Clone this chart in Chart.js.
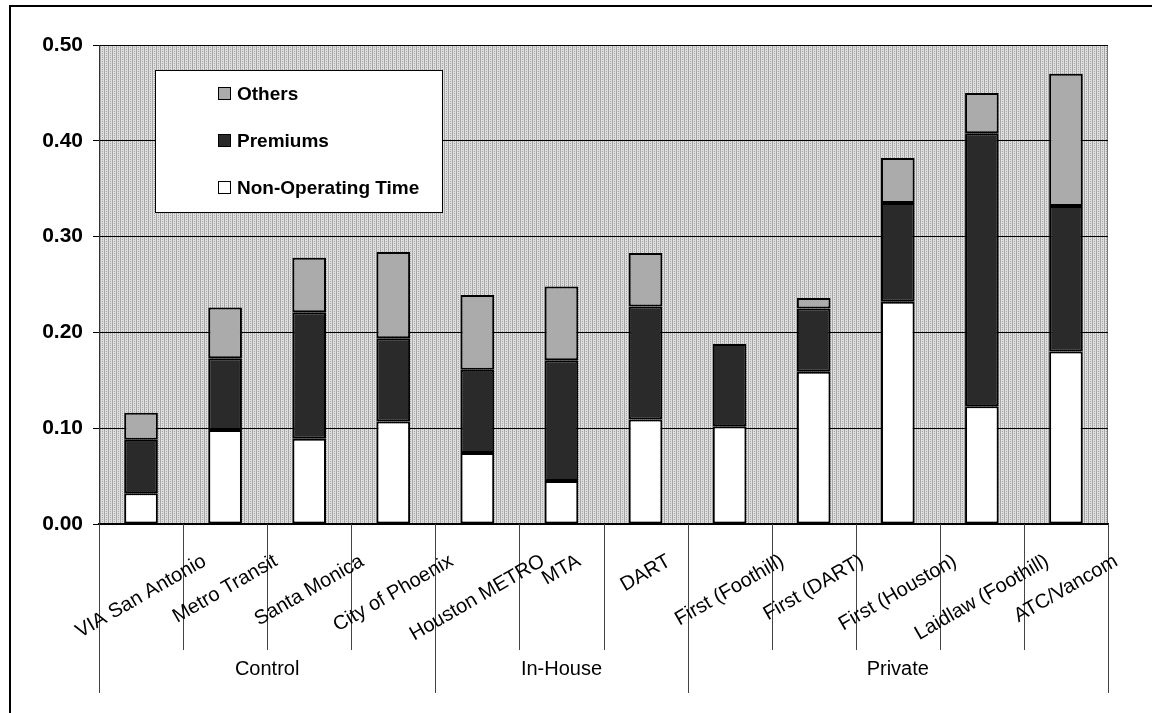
<!DOCTYPE html>
<html>
<head>
<meta charset="utf-8">
<script src="https://cdn.jsdelivr.net/npm/chart.js@4.4.0/dist/chart.umd.min.js"></script>
<style>
    html, body { margin: 0; padding: 0; background: #fff; }
    #wrap { width: 1152px; height: 713px; position: relative; }
</style>
</head>
<body>
<div id="wrap"><canvas id="grafico" width="1152" height="713"></canvas></div>
<script>

const categorias = ['VIA San Antonio', 'Metro Transit', 'Santa Monica', 'City of Phoenix',
    'Houston METRO', 'MTA', 'DART',
    'First (Foothill)', 'First (DART)', 'First (Houston)', 'Laidlaw (Foothill)', 'ATC/Vancom']

const grupos = ['Control', 'In-House', 'Private']
const tamGrupos = [4, 3, 5]

const noOperativo = [0.032, 0.098, 0.089, 0.107, 0.074, 0.045, 0.109, 0.102, 0.159, 0.232, 0.123, 0.180]
const primas      = [0.056, 0.075, 0.132, 0.087, 0.087, 0.126, 0.118, 0.086, 0.066, 0.103, 0.285, 0.152]
const otros       = [0.028, 0.053, 0.057, 0.090, 0.078, 0.077, 0.056, 0.000, 0.011, 0.047, 0.042, 0.138]

const ticksY = [0, 0.1, 0.2, 0.3, 0.4, 0.5]

const FUENTE = '"Liberation Sans", Arial, sans-serif'

// textura gris del fondo del area de trazado
const crearTextura = (ctx) => {
    const c = document.createElement('canvas')
    c.width = 4
    c.height = 4
    const g = c.getContext('2d')
    g.fillStyle = '#dedede'
    g.fillRect(0, 0, 4, 4)
    g.fillStyle = '#a6a6a6'
    g.fillRect(0, 0, 1, 4)
    g.fillRect(2, 1, 1, 1)
    g.fillRect(2, 3, 1, 1)
    return ctx.createPattern(c, 'repeat')
}

const fondoYMarco = {
    id: 'fondoYMarco',
    beforeDraw(chart) {
        const { ctx, chartArea: a } = chart
        ctx.save()
        ctx.fillStyle = '#fff'
        ctx.fillRect(0, 0, chart.width, chart.height)

        // marco exterior
        ctx.strokeStyle = '#000'
        ctx.lineWidth = 2
        ctx.beginPath()
        ctx.moveTo(10, chart.height)
        ctx.lineTo(10, 6)
        ctx.lineTo(chart.width, 6)
        ctx.stroke()

        ctx.fillStyle = crearTextura(ctx)
        ctx.fillRect(a.left, a.top, a.right - a.left, a.bottom - a.top)
        ctx.strokeStyle = '#777'
        ctx.lineWidth = 1
        ctx.strokeRect(a.left + 0.5, a.top + 0.5, a.right - a.left - 1, a.bottom - a.top)
        ctx.restore()
    }
}

const ejeCategorias = {
    id: 'ejeCategorias',
    afterDraw(chart) {
        const { ctx, chartArea: a } = chart
        const xs = chart.scales.x
        const n = categorias.length
        ctx.save()

        // limites entre categorias
        const limites = []
        limites.push(a.left)
        for (let i = 1; i < n; i++) {
            limites.push((xs.getPixelForTick(i - 1) + xs.getPixelForTick(i)) / 2)
        }
        limites.push(a.right)

        const cortes = [0]
        tamGrupos.reduce((acc, t) => { cortes.push(acc + t); return acc + t }, 0)

        ctx.strokeStyle = '#444'
        ctx.lineWidth = 1
        limites.forEach((x, i) => {
            const largo = cortes.includes(i)
            ctx.beginPath()
            ctx.moveTo(Math.round(x) + 0.5, a.bottom)
            ctx.lineTo(Math.round(x) + 0.5, a.bottom + (largo ? 169 : 126))
            ctx.stroke()
        })

        // etiquetas giradas
        const ang = Math.PI / 6
        ctx.font = '20px ' + FUENTE
        ctx.fillStyle = '#000'
        ctx.textAlign = 'center'
        ctx.textBaseline = 'middle'
        categorias.forEach((cat, i) => {
            const x = xs.getPixelForTick(i)
            const w = ctx.measureText(cat).width
            const alto = w * Math.sin(ang) + 18 * Math.cos(ang)
            ctx.save()
            ctx.translate(x, a.bottom + 28 + alto / 2)
            ctx.rotate(-ang)
            ctx.fillText(cat, 0, 0)
            ctx.restore()
        })

        // nombres de grupo
        grupos.forEach((g, i) => {
            const x = (limites[cortes[i]] + limites[cortes[i + 1]]) / 2
            ctx.fillText(g, x, a.bottom + 145)
        })

        // leyenda
        const lx = a.left + 56
        const ly = a.top + 25
        ctx.fillStyle = '#fff'
        ctx.fillRect(lx, ly, 287, 142)
        ctx.strokeStyle = '#000'
        ctx.strokeRect(lx + 0.5, ly + 0.5, 287, 142)

        ctx.font = 'bold 19px ' + FUENTE
        ctx.textAlign = 'left'
        const items = chart.data.datasets.slice().reverse()
        items.forEach((ds, i) => {
            const cy = ly + 24 + i * 47
            ctx.fillStyle = ds.backgroundColor
            ctx.fillRect(lx + 63, cy - 6, 12, 12)
            ctx.strokeStyle = '#000'
            ctx.strokeRect(lx + 63.5, cy - 6.5, 12, 12)
            ctx.fillStyle = '#000'
            ctx.fillText(ds.label, lx + 82, cy + 1)
        })

        ctx.restore()
    }
}

const ctxGrafico = document.getElementById('grafico').getContext('2d')

new Chart(ctxGrafico, {
    type: 'bar',
    data: {
        labels: categorias,
        datasets: [
            {
                label: 'Non-Operating Time',
                data: noOperativo,
                backgroundColor: '#ffffff',
                borderColor: '#000',
                borderWidth: 2,
                borderSkipped: false
            },
            {
                label: 'Premiums',
                data: primas,
                backgroundColor: '#2a2a2a',
                borderColor: '#000',
                borderWidth: 2,
                borderSkipped: false
            },
            {
                label: 'Others',
                data: otros,
                backgroundColor: '#ababab',
                borderColor: '#000',
                borderWidth: 2,
                borderSkipped: false
            }
        ]
    },
    options: {
        responsive: false,
        devicePixelRatio: 1,
        animation: false,
        layout: { padding: { left: 0, top: 45, right: 44, bottom: 189 } },
        datasets: { bar: { categoryPercentage: 1, barPercentage: 0.4 } },
        plugins: {
            legend: { display: false },
            tooltip: { enabled: false }
        },
        scales: {
            x: {
                stacked: true,
                grid: { display: false },
                ticks: { display: false },
                border: { display: true, color: '#000', width: 2 },
                afterFit: (s) => { s.height = 0 }
            },
            y: {
                stacked: true,
                min: 0,
                max: 0.5,
                afterBuildTicks: (s) => { s.ticks = ticksY.map(v => ({ value: v })) },
                afterFit: (s) => { s.width = 99 },
                grid: { color: '#000', lineWidth: 1, tickLength: 6, drawTicks: true },
                border: { display: true, color: '#333', width: 1 },
                ticks: {
                    padding: 10,
                    color: '#000',
                    font: { family: FUENTE, size: 21, weight: 'bold' },
                    callback: (v) => Number(v).toFixed(2)
                }
            }
        }
    },
    plugins: [fondoYMarco, ejeCategorias]
})

</script>
</body>
</html>
